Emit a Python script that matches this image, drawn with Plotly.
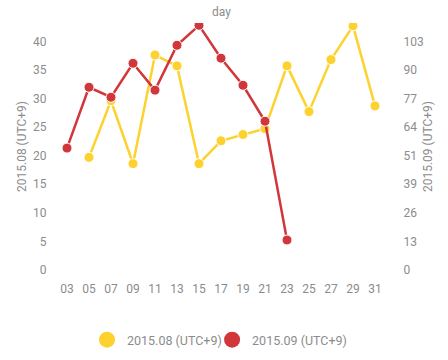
import plotly.graph_objects as go

days = ["03", "05", "07", "09", "11", "13", "15", "17", "19", "21", "23", "25", "27", "29", "31"]
aug_days = ["05", "07", "09", "11", "13", "15", "17", "19", "21", "23", "25", "27", "29", "31"]
aug_vals = [19.7, 29.6, 18.6, 37.6, 35.7, 18.6, 22.6, 23.7, 24.7, 35.7, 27.7, 36.8, 42.7, 28.7]
sep_days = ["03", "05", "07", "09", "11", "13", "15", "17", "19", "21", "23"]
sep_vals = [54.9, 82.3, 77.8, 93.1, 81.0, 101.2, 110.2, 95.4, 83.2, 67.0, 13.5]
left_ticks = [0, 5, 10, 15, 20, 25, 30, 35, 40]
right_tickvals = [0, 12.875, 25.75, 38.625, 51.5, 64.375, 77.25, 90.125, 103]
right_ticktext = ["0", "13", "26", "39", "51", "64", "77", "90", "103"]

YELLOW = "#FDD22E"
RED = "#D0363A"
GREY = "#8c8c8c"
FONT = "Roboto, sans-serif"

top = 43.2
fig = go.Figure()
fig.add_trace(go.Scatter(
    x=aug_days, y=aug_vals, name="2015.08 (UTC+9)", mode="lines+markers",
    line=dict(color=YELLOW, width=2.5),
    marker=dict(color=YELLOW, size=10, line=dict(color="white", width=1)),
    yaxis="y", showlegend=False))
fig.add_trace(go.Scatter(
    x=sep_days, y=sep_vals, name="2015.09 (UTC+9)", mode="lines+markers",
    line=dict(color=RED, width=2.5),
    marker=dict(color=RED, size=10, line=dict(color="white", width=1)),
    yaxis="y2", showlegend=False))
# legend entries (marker only)
fig.add_trace(go.Scatter(x=[None], y=[None], name="2015.08 (UTC+9)", mode="markers",
                         marker=dict(color=YELLOW, size=16), legend="legend"))
fig.add_trace(go.Scatter(x=[None], y=[None], name="2015.09 (UTC+9)", mode="markers",
                         marker=dict(color=RED, size=16), legend="legend2"))

leg_common = dict(orientation="h", xanchor="left", y=-0.223, yanchor="top",
                  font=dict(size=12.5, color=GREY), itemsizing="trace", itemwidth=30,
                  bgcolor="rgba(0,0,0,0)")
fig.update_layout(
    width=448, height=360,
    margin=dict(l=56, r=62, t=23, b=90, autoexpand=False),
    paper_bgcolor="white", plot_bgcolor="white",
    font=dict(family=FONT, size=12, color=GREY),
    showlegend=True,
    legend=dict(x=0.094, **leg_common),
    legend2=dict(x=0.473, **leg_common),
    xaxis=dict(type="category", categoryorder="array", categoryarray=days,
               range=[-0.5, 14.5], showgrid=False, zeroline=False, showline=False,
               ticks="outside", ticklen=8, tickcolor="white", automargin=False,
               tickfont=dict(size=12, color=GREY)),
    yaxis=dict(range=[0, top], tickvals=left_ticks, showgrid=False, zeroline=False,
               showline=False, ticks="outside", ticklen=6, tickcolor="white", automargin=False,
               title=dict(text="2015.08 (UTC+9)", font=dict(size=12, color=GREY), standoff=3),
               tickfont=dict(size=12, color=GREY)),
    yaxis2=dict(range=[0, top * 103 / 40], tickvals=right_tickvals, ticktext=right_ticktext,
                overlaying="y", side="right", showgrid=False, zeroline=False, showline=False,
                ticks="outside", ticklen=14, tickcolor="white", automargin=False,
                title=dict(text="2015.09 (UTC+9)", font=dict(size=12, color=GREY), standoff=0),
                tickfont=dict(size=12, color=GREY)),
    annotations=[dict(text="day", x=0.5, y=1.0, xref="paper", yref="paper",
                      xanchor="center", yanchor="bottom", yshift=2, showarrow=False,
                      font=dict(size=12, color=GREY))],
)
fig.write_html("out.html", config={"displayModeBar": False},
               post_script="document.body.style.margin='0';")
